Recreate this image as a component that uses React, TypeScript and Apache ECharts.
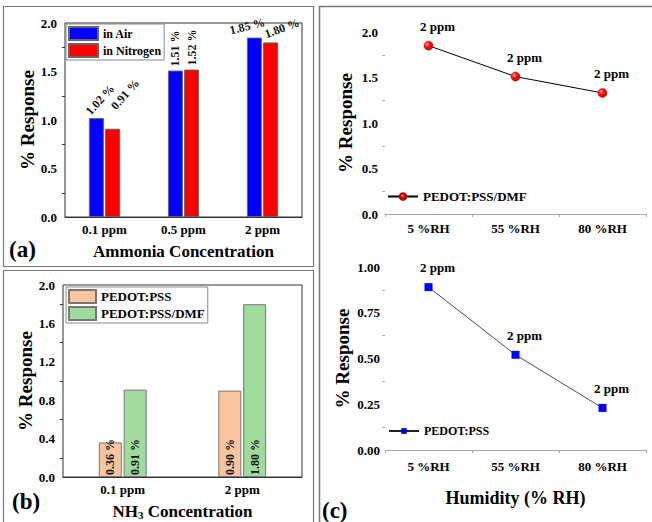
import React, { useEffect, useRef } from "react";
import * as echarts from "echarts";

// ---- data ----
const ammoniaCats = ["0.1 ppm", "0.5 ppm", "2 ppm"];
const airValues = [1.02, 1.51, 1.85];
const nitrogenValues = [0.91, 1.52, 1.8];

const nh3Cats = ["0.1 ppm", "2 ppm"];
const pssValues = [0.36, 0.9];
const dmfValues = [0.91, 1.8];

const humidityCats = ["5 %RH", "55 %RH", "80 %RH"];
const dmfHumidity = [1.85, 1.51, 1.33];
const pssHumidity = [0.89, 0.52, 0.23];
const pointLabels = ["2 ppm", "2 ppm", "2 ppm"];

// ---- label placement (styles, not data) ----
const airLabelCfg = [
  { rotate: 48, position: [-1, -5] },
  { rotate: 90, position: ["50%", -4] },
  { rotate: 14, position: [-17, -7] },
];
const nitrogenLabelCfg = [
  { rotate: 48, position: [8, -21] },
  { rotate: 90, position: ["50%", -4] },
  { rotate: 20, position: [2, -8] },
];

const FONT = "Liberation Serif";

const pct = (p: any) => Number(p.value).toFixed(2) + " %";

export default function App() {
  const ref = useRef<HTMLDivElement>(null);
  useEffect(() => {
    if (!ref.current) return;
    const chart = echarts.init(ref.current, undefined, { renderer: "svg" });

    const labelBase = {
      show: true,
      align: "left",
      verticalAlign: "middle",
      fontSize: 12,
      fontWeight: "bold",
      fontFamily: FONT,
      color: "#111",
      formatter: pct,
    };

    const airData = airValues.map((v, i) => ({
      value: v,
      label: { ...labelBase, ...airLabelCfg[i] },
    }));
    const nitrogenData = nitrogenValues.map((v, i) => ({
      value: v,
      label: { ...labelBase, ...nitrogenLabelCfg[i] },
    }));

    const darkAxis = {
      axisLine: { lineStyle: { color: "#333", width: 1 } },
      axisTick: { length: 4, lineStyle: { color: "#333" } },
      splitLine: { show: false },
    };
    const lightAxis = {
      axisLine: { lineStyle: { color: "#aaa", width: 1 } },
      axisTick: { length: 4, lineStyle: { color: "#aaa" } },
      splitLine: { show: false },
    };
    const tickLabel = { fontSize: 13, fontWeight: "bold", color: "#000", fontFamily: FONT };
    const yName = { fontSize: 19, fontWeight: "bold", color: "#000", fontFamily: FONT };
    const xName = { fontSize: 17, fontWeight: "bold", color: "#000", fontFamily: FONT };

    const boundaryTickAxis = (gridIndex: number) => ({
      gridIndex,
      type: "category",
      data: humidityCats,
      position: "bottom",
      axisLine: { show: false },
      axisTick: { show: true, length: 3, lineStyle: { color: "#aaa" } },
      axisLabel: { show: false },
      splitLine: { show: false },
    });

    const option: any = {
      animation: false,
      backgroundColor: "#fff",
      textStyle: { fontFamily: FONT, fontWeight: "bold" },
      grid: [
        { left: 65, top: 23, width: 237, height: 194, show: true, borderColor: "#333", borderWidth: 1, outerBoundsMode: "none", containLabel: false },
        { left: 63, top: 285, width: 239, height: 192, show: true, borderColor: "#333", borderWidth: 1, outerBoundsMode: "none", containLabel: false },
        { left: 385, top: 32, width: 261, height: 182, outerBoundsMode: "none", containLabel: false },
        { left: 385, top: 267, width: 261, height: 183, outerBoundsMode: "none", containLabel: false },
      ],
      xAxis: [
        {
          gridIndex: 0,
          type: "category",
          data: ammoniaCats,
          ...darkAxis,
          axisLabel: { ...tickLabel, margin: 6 },
          name: "Ammonia Concentration",
          nameLocation: "middle",
          nameGap: 26,
          nameTextStyle: xName,
        },
        {
          gridIndex: 1,
          type: "category",
          data: nh3Cats,
          ...darkAxis,
          axisTick: { length: 4, alignWithLabel: true, lineStyle: { color: "#333" } },
          axisLabel: { ...tickLabel, margin: 6 },
          name: "NH{s|3} Concentration",
          nameLocation: "middle",
          nameGap: 26,
          nameTextStyle: {
            ...xName,
            rich: {
              s: { fontSize: 11, fontWeight: "bold", fontFamily: FONT, color: "#000", padding: [6, 0, 0, 0] },
            },
          },
        },
        {
          gridIndex: 2,
          type: "category",
          data: humidityCats,
          ...lightAxis,
          axisTick: { length: 4, alignWithLabel: true, lineStyle: { color: "#aaa" } },
          axisLabel: { ...tickLabel, margin: 8 },
        },
        {
          gridIndex: 3,
          type: "category",
          data: humidityCats,
          ...lightAxis,
          axisTick: { length: 4, alignWithLabel: true, lineStyle: { color: "#aaa" } },
          axisLabel: { ...tickLabel, margin: 10 },
          name: "Humidity (% RH)",
          nameLocation: "middle",
          nameGap: 39,
          nameTextStyle: { ...xName, fontSize: 18 },
        },
        boundaryTickAxis(2),
        boundaryTickAxis(3),
      ],
      yAxis: [
        {
          gridIndex: 0,
          type: "value",
          min: 0,
          max: 2,
          interval: 0.5,
          ...darkAxis,
          minorTick: { show: true, splitNumber: 2, length: 3, lineStyle: { color: "#333" } },
          axisLabel: { ...tickLabel, margin: 8, formatter: (v: number) => v.toFixed(1) },
          name: "% Response",
          nameLocation: "middle",
          nameGap: 28,
          nameTextStyle: yName,
        },
        {
          gridIndex: 1,
          type: "value",
          min: 0,
          max: 2,
          interval: 0.4,
          ...darkAxis,
          minorTick: { show: true, splitNumber: 2, length: 3, lineStyle: { color: "#333" } },
          axisLabel: { ...tickLabel, margin: 8, formatter: (v: number) => v.toFixed(1) },
          name: "% Response",
          nameLocation: "middle",
          nameGap: 26,
          nameTextStyle: yName,
        },
        {
          gridIndex: 2,
          type: "value",
          min: 0,
          max: 2,
          interval: 0.5,
          ...lightAxis,
          minorTick: { show: true, splitNumber: 2, length: 3, lineStyle: { color: "#aaa" } },
          axisLabel: { ...tickLabel, margin: 7, formatter: (v: number) => v.toFixed(1) },
          name: "% Response",
          nameLocation: "middle",
          nameGap: 30,
          nameTextStyle: yName,
        },
        {
          gridIndex: 3,
          type: "value",
          min: 0,
          max: 1,
          interval: 0.25,
          ...lightAxis,
          minorTick: { show: true, splitNumber: 2, length: 3, lineStyle: { color: "#aaa" } },
          axisLabel: { ...tickLabel, margin: 5, formatter: (v: number) => v.toFixed(2) },
          name: "% Response",
          nameLocation: "middle",
          nameGap: 33,
          nameTextStyle: yName,
        },
      ],
      legend: [
        {
          data: ["in Air", "in Nitrogen"],
          orient: "vertical",
          left: 66,
          top: 24,
          padding: [2, 3, 2, 2],
          itemGap: 2,
          itemWidth: 29,
          itemHeight: 13,
          icon: "rect",
          borderColor: "#888",
          borderWidth: 1,
          selectedMode: false,
          textStyle: { fontSize: 12, fontWeight: "bold", color: "#000", fontFamily: FONT },
        },
        {
          data: ["PEDOT:PSS", "PEDOT:PSS/DMF"],
          orient: "vertical",
          left: 66,
          top: 287,
          padding: [2, 3, 2, 2],
          itemGap: 2,
          itemWidth: 27,
          itemHeight: 13,
          icon: "rect",
          borderColor: "#888",
          borderWidth: 1,
          selectedMode: false,
          textStyle: { fontSize: 13, fontWeight: "bold", color: "#000", fontFamily: FONT },
        },
        {
          data: ["c1:PEDOT:PSS/DMF"],
          left: 387,
          top: 190,
          padding: 0,
          itemWidth: 30,
          itemHeight: 8,
          selectedMode: false,
          formatter: (n: string) => n.replace(/^c\d:/, ""),
          textStyle: { fontSize: 13, fontWeight: "bold", color: "#000", fontFamily: FONT },
        },
        {
          data: ["c2:PEDOT:PSS"],
          left: 388,
          top: 425,
          padding: 0,
          itemWidth: 30,
          itemHeight: 7,
          selectedMode: false,
          formatter: (n: string) => n.replace(/^c\d:/, ""),
          textStyle: { fontSize: 12, fontWeight: "bold", color: "#000", fontFamily: FONT },
        },
      ],
      series: [
        {
          name: "in Air",
          type: "bar",
          xAxisIndex: 0,
          yAxisIndex: 0,
          data: airData,
          barWidth: 15,
          barGap: "8%",
          itemStyle: { color: "#0000FF", borderColor: "#666", borderWidth: 1 },
        },
        {
          name: "in Nitrogen",
          type: "bar",
          xAxisIndex: 0,
          yAxisIndex: 0,
          data: nitrogenData,
          barWidth: 15,
          barGap: "8%",
          itemStyle: { color: "#FF0000", borderColor: "#666", borderWidth: 1 },
        },
        {
          name: "PEDOT:PSS",
          type: "bar",
          xAxisIndex: 1,
          yAxisIndex: 1,
          data: pssValues,
          barWidth: 23,
          barGap: "8%",
          itemStyle: { color: "#F9C49E", borderColor: "#777", borderWidth: 1 },
          label: { ...labelBase, position: "insideBottom", distance: 2, rotate: 90 },
        },
        {
          name: "PEDOT:PSS/DMF",
          type: "bar",
          xAxisIndex: 1,
          yAxisIndex: 1,
          data: dmfValues,
          barWidth: 23,
          barGap: "8%",
          itemStyle: { color: "#9FDB9C", borderColor: "#777", borderWidth: 1 },
          label: { ...labelBase, position: "insideBottom", distance: 2, rotate: 90 },
        },
        {
          name: "c1:PEDOT:PSS/DMF",
          type: "line",
          xAxisIndex: 2,
          yAxisIndex: 2,
          data: dmfHumidity,
          symbol: "circle",
          symbolSize: 9,
          lineStyle: { color: "#000", width: 1 },
          itemStyle: {
            color: new echarts.graphic.RadialGradient(0.35, 0.35, 0.7, [
              { offset: 0, color: "#ffb0b0" },
              { offset: 0.4, color: "#ff1010" },
              { offset: 1, color: "#c00000" },
            ]),
            borderColor: "#b00000",
            borderWidth: 0.5,
          },
          label: {
            show: true,
            position: "top",
            distance: 8,
            offset: [9, 0],
            fontSize: 13,
            fontWeight: "bold",
            fontFamily: FONT,
            color: "#000",
            formatter: (p: any) => pointLabels[p.dataIndex],
          },
        },
        {
          name: "c2:PEDOT:PSS",
          type: "line",
          xAxisIndex: 3,
          yAxisIndex: 3,
          data: pssHumidity,
          symbol: "rect",
          symbolSize: 8,
          lineStyle: { color: "#222", width: 0.8 },
          itemStyle: { color: "#0000FF" },
          label: {
            show: true,
            position: "top",
            distance: 9,
            offset: [9, 0],
            fontSize: 13,
            fontWeight: "bold",
            fontFamily: FONT,
            color: "#000",
            formatter: (p: any) => pointLabels[p.dataIndex],
          },
        },
      ],
      graphic: [
        { type: "rect", shape: { x: 3.5, y: 6.5, width: 310, height: 260 }, style: { fill: "none", stroke: "#777", lineWidth: 1.2 }, silent: true },
        { type: "rect", shape: { x: 3.5, y: 270.5, width: 310, height: 262 }, style: { fill: "none", stroke: "#777", lineWidth: 1.2 }, silent: true },
        { type: "rect", shape: { x: 319.5, y: 6.5, width: 345, height: 530 }, style: { fill: "none", stroke: "#777", lineWidth: 1.5 }, silent: true },
        { type: "text", left: 9, top: 238, style: { text: "(a)", fontSize: 23, fontWeight: "bold", fontFamily: FONT, fill: "#000" } },
        { type: "text", left: 12, top: 490, style: { text: "(b)", fontSize: 23, fontWeight: "bold", fontFamily: FONT, fill: "#000" } },
        { type: "text", left: 322, top: 499, style: { text: "(c)", fontSize: 23, fontWeight: "bold", fontFamily: FONT, fill: "#000" } },
      ],
    };

    chart.setOption(option);
    return () => chart.dispose();
  }, []);

  return (
    <div
      ref={ref}
      style={{ position: "absolute", left: 0, top: 0, width: 652, height: 522, background: "#fff" }}
    />
  );
}
